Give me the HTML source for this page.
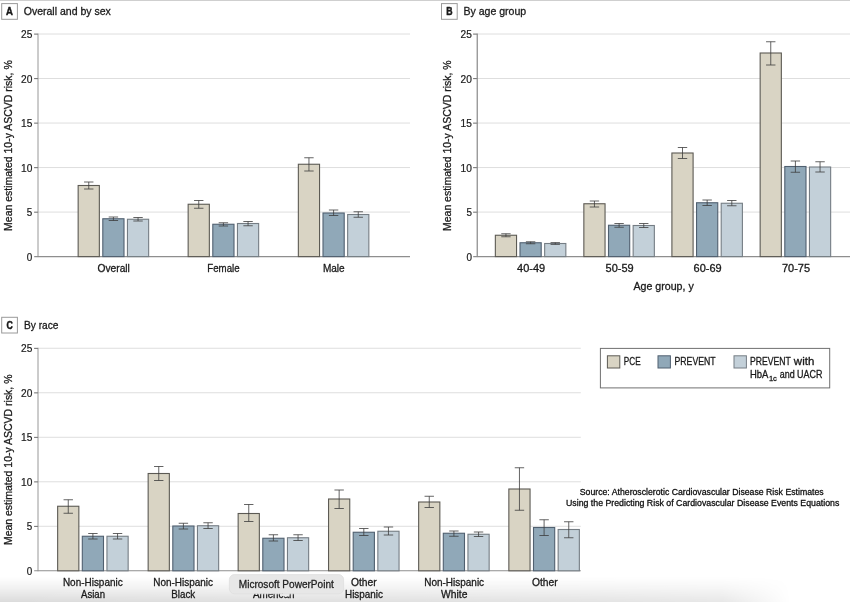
<!DOCTYPE html>
<html lang="en"><head><meta charset="utf-8"><title>Mean estimated 10-y ASCVD risk</title>
<style>html,body{margin:0;padding:0;background:#fff}body{width:850px;height:602px;overflow:hidden}svg{display:block}text{stroke:#1a1a1a;stroke-width:.3px;stroke-linejoin:round}text.n{stroke:none}</style>
</head><body>
<svg width="850" height="602" viewBox="0 0 850 602" font-family='&quot;Liberation Sans&quot;, &quot;DejaVu Sans&quot;, sans-serif' fill="#1a1a1a">
<defs><linearGradient id="sv" x1="0" y1="0" x2="0" y2="1"><stop offset="0" stop-color="#000" stop-opacity="0"/><stop offset="0.45" stop-color="#000" stop-opacity="0.055"/><stop offset="1" stop-color="#000" stop-opacity="0.14"/></linearGradient><linearGradient id="sh" x1="0" y1="0" x2="1" y2="0"><stop offset="0" stop-color="#fff"/><stop offset="0.70" stop-color="#c4c4c4"/><stop offset="0.85" stop-color="#a8a8a8"/><stop offset="0.93" stop-color="#000"/></linearGradient><mask id="sm" maskUnits="userSpaceOnUse" x="0" y="570" width="850" height="40"><rect x="0" y="570" width="850" height="40" fill="url(#sh)"/></mask></defs>
<rect width="850" height="602" fill="#fff"/>
<rect x="0" y="0" width="850" height="0.8" fill="#c4c4c4"/>
<line x1="38" y1="212.08" x2="410" y2="212.08" stroke="#dedede" stroke-width="1"/>
<line x1="38" y1="167.56" x2="410" y2="167.56" stroke="#dedede" stroke-width="1"/>
<line x1="38" y1="123.04" x2="410" y2="123.04" stroke="#dedede" stroke-width="1"/>
<line x1="38" y1="78.52" x2="410" y2="78.52" stroke="#dedede" stroke-width="1"/>
<line x1="38" y1="34.00" x2="410" y2="34.00" stroke="#dedede" stroke-width="1"/>
<line x1="38" y1="33.50" x2="38" y2="257.10" stroke="#989898" stroke-width="1"/>
<line x1="34.2" y1="256.60" x2="410" y2="256.60" stroke="#8e8e8e" stroke-width="1.05"/>
<line x1="34.1" y1="212.18" x2="37.8" y2="212.18" stroke="#3a3a3a" stroke-width="0.75"/>
<line x1="34.1" y1="167.66" x2="37.8" y2="167.66" stroke="#3a3a3a" stroke-width="0.75"/>
<line x1="34.1" y1="123.14" x2="37.8" y2="123.14" stroke="#3a3a3a" stroke-width="0.75"/>
<line x1="34.1" y1="78.62" x2="37.8" y2="78.62" stroke="#3a3a3a" stroke-width="0.75"/>
<line x1="34.1" y1="34.10" x2="37.8" y2="34.10" stroke="#3a3a3a" stroke-width="0.75"/>
<rect x="78.15" y="185.50" width="21.2" height="71.10" fill="#d9d4c4" stroke="#5c5a54" stroke-width="1.1"/>
<path d="M88.75 182.00V189.00M84.05 182.00H93.45M84.05 189.00H93.45" stroke="#3c3c3c" stroke-width="0.8" fill="none"/>
<rect x="102.80" y="218.75" width="21.2" height="37.85" fill="#90a8b8" stroke="#506070" stroke-width="1.1"/>
<path d="M113.40 217.00V220.50M108.70 217.00H118.10M108.70 220.50H118.10" stroke="#3c3c3c" stroke-width="0.8" fill="none"/>
<rect x="127.45" y="219.25" width="21.2" height="37.35" fill="#c3d0d9" stroke="#757d84" stroke-width="1.1"/>
<path d="M138.05 217.50V221.00M133.35 217.50H142.75M133.35 221.00H142.75" stroke="#3c3c3c" stroke-width="0.8" fill="none"/>
<rect x="188.15" y="204.25" width="21.2" height="52.35" fill="#d9d4c4" stroke="#5c5a54" stroke-width="1.1"/>
<path d="M198.75 200.50V208.25M194.05 200.50H203.45M194.05 208.25H203.45" stroke="#3c3c3c" stroke-width="0.8" fill="none"/>
<rect x="212.80" y="224.25" width="21.2" height="32.35" fill="#90a8b8" stroke="#506070" stroke-width="1.1"/>
<path d="M223.40 222.75V226.00M218.70 222.75H228.10M218.70 226.00H228.10" stroke="#3c3c3c" stroke-width="0.8" fill="none"/>
<rect x="237.45" y="223.50" width="21.2" height="33.10" fill="#c3d0d9" stroke="#757d84" stroke-width="1.1"/>
<path d="M248.05 221.50V225.75M243.35 221.50H252.75M243.35 225.75H252.75" stroke="#3c3c3c" stroke-width="0.8" fill="none"/>
<rect x="298.35" y="164.25" width="21.2" height="92.35" fill="#d9d4c4" stroke="#5c5a54" stroke-width="1.1"/>
<path d="M308.95 157.75V171.00M304.25 157.75H313.65M304.25 171.00H313.65" stroke="#3c3c3c" stroke-width="0.8" fill="none"/>
<rect x="323.00" y="213.00" width="21.2" height="43.60" fill="#90a8b8" stroke="#506070" stroke-width="1.1"/>
<path d="M333.60 210.00V215.50M328.90 210.00H338.30M328.90 215.50H338.30" stroke="#3c3c3c" stroke-width="0.8" fill="none"/>
<rect x="347.65" y="214.50" width="21.2" height="42.10" fill="#c3d0d9" stroke="#757d84" stroke-width="1.1"/>
<path d="M358.25 211.75V217.25M353.55 211.75H362.95M353.55 217.25H362.95" stroke="#3c3c3c" stroke-width="0.8" fill="none"/>
<text x="26.8" y="260.80" font-size="10.0" textLength="5.5" lengthAdjust="spacingAndGlyphs" style="stroke-width:.2px">0</text>
<text x="26.8" y="216.28" font-size="10.0" textLength="5.5" lengthAdjust="spacingAndGlyphs" style="stroke-width:.2px">5</text>
<text x="21.0" y="171.76" font-size="10.0" textLength="11.3" lengthAdjust="spacingAndGlyphs" style="stroke-width:.2px">10</text>
<text x="21.0" y="127.24" font-size="10.0" textLength="11.3" lengthAdjust="spacingAndGlyphs" style="stroke-width:.2px">15</text>
<text x="21.0" y="82.72" font-size="10.0" textLength="11.3" lengthAdjust="spacingAndGlyphs" style="stroke-width:.2px">20</text>
<text x="21.0" y="38.20" font-size="10.0" textLength="11.3" lengthAdjust="spacingAndGlyphs" style="stroke-width:.2px">25</text>
<text transform="translate(11.5,230.9) rotate(-90)" font-size="11.1" textLength="170.6" lengthAdjust="spacingAndGlyphs">Mean estimated 10-y ASCVD risk, %</text>
<rect x="1.7" y="3.6" width="15.7" height="15.7" fill="#fff" stroke="#9a9a9a" stroke-width="1"/>
<text x="6.10" y="15.25" font-size="10.7" font-weight="bold" style="stroke-width:.5px" textLength="6.9" lengthAdjust="spacingAndGlyphs">A</text>
<text x="23.7" y="15.3" font-size="11.0" textLength="87.2" lengthAdjust="spacingAndGlyphs">Overall and by sex</text>
<text x="97.5" y="272" font-size="10.6" textLength="32.4" lengthAdjust="spacingAndGlyphs">Overall</text>
<text x="207.3" y="272" font-size="10.6" textLength="32.3" lengthAdjust="spacingAndGlyphs">Female</text>
<text x="322.9" y="272" font-size="10.6" textLength="21.8" lengthAdjust="spacingAndGlyphs">Male</text>
<line x1="477" y1="212.08" x2="850" y2="212.08" stroke="#dedede" stroke-width="1"/>
<line x1="477" y1="167.56" x2="850" y2="167.56" stroke="#dedede" stroke-width="1"/>
<line x1="477" y1="123.04" x2="850" y2="123.04" stroke="#dedede" stroke-width="1"/>
<line x1="477" y1="78.52" x2="850" y2="78.52" stroke="#dedede" stroke-width="1"/>
<line x1="477" y1="34.00" x2="850" y2="34.00" stroke="#dedede" stroke-width="1"/>
<line x1="477.2" y1="33.50" x2="477.2" y2="257.10" stroke="#707070" stroke-width="1"/>
<line x1="473.2" y1="256.60" x2="850" y2="256.60" stroke="#8e8e8e" stroke-width="1.05"/>
<line x1="473.1" y1="212.18" x2="476.8" y2="212.18" stroke="#3a3a3a" stroke-width="0.75"/>
<line x1="473.1" y1="167.66" x2="476.8" y2="167.66" stroke="#3a3a3a" stroke-width="0.75"/>
<line x1="473.1" y1="123.14" x2="476.8" y2="123.14" stroke="#3a3a3a" stroke-width="0.75"/>
<line x1="473.1" y1="78.62" x2="476.8" y2="78.62" stroke="#3a3a3a" stroke-width="0.75"/>
<line x1="473.1" y1="34.10" x2="476.8" y2="34.10" stroke="#3a3a3a" stroke-width="0.75"/>
<rect x="495.35" y="235.25" width="21.2" height="21.35" fill="#d9d4c4" stroke="#5c5a54" stroke-width="1.1"/>
<path d="M505.95 233.75V236.75M501.25 233.75H510.65M501.25 236.75H510.65" stroke="#3c3c3c" stroke-width="0.8" fill="none"/>
<rect x="520.00" y="242.75" width="21.2" height="13.85" fill="#90a8b8" stroke="#506070" stroke-width="1.1"/>
<path d="M530.60 241.75V243.75M525.90 241.75H535.30M525.90 243.75H535.30" stroke="#3c3c3c" stroke-width="0.8" fill="none"/>
<rect x="544.65" y="243.50" width="21.2" height="13.10" fill="#c3d0d9" stroke="#757d84" stroke-width="1.1"/>
<path d="M555.25 242.60V244.40M550.55 242.60H559.95M550.55 244.40H559.95" stroke="#3c3c3c" stroke-width="0.8" fill="none"/>
<rect x="583.85" y="203.75" width="21.2" height="52.85" fill="#d9d4c4" stroke="#5c5a54" stroke-width="1.1"/>
<path d="M594.45 201.00V207.00M589.75 201.00H599.15M589.75 207.00H599.15" stroke="#3c3c3c" stroke-width="0.8" fill="none"/>
<rect x="608.50" y="225.25" width="21.2" height="31.35" fill="#90a8b8" stroke="#506070" stroke-width="1.1"/>
<path d="M619.10 223.50V227.25M614.40 223.50H623.80M614.40 227.25H623.80" stroke="#3c3c3c" stroke-width="0.8" fill="none"/>
<rect x="633.15" y="225.50" width="21.2" height="31.10" fill="#c3d0d9" stroke="#757d84" stroke-width="1.1"/>
<path d="M643.75 223.50V227.50M639.05 223.50H648.45M639.05 227.50H648.45" stroke="#3c3c3c" stroke-width="0.8" fill="none"/>
<rect x="671.90" y="153.00" width="21.2" height="103.60" fill="#d9d4c4" stroke="#5c5a54" stroke-width="1.1"/>
<path d="M682.50 147.50V158.50M677.80 147.50H687.20M677.80 158.50H687.20" stroke="#3c3c3c" stroke-width="0.8" fill="none"/>
<rect x="696.55" y="202.75" width="21.2" height="53.85" fill="#90a8b8" stroke="#506070" stroke-width="1.1"/>
<path d="M707.15 200.00V205.50M702.45 200.00H711.85M702.45 205.50H711.85" stroke="#3c3c3c" stroke-width="0.8" fill="none"/>
<rect x="721.20" y="203.25" width="21.2" height="53.35" fill="#c3d0d9" stroke="#757d84" stroke-width="1.1"/>
<path d="M731.80 200.50V205.75M727.10 200.50H736.50M727.10 205.75H736.50" stroke="#3c3c3c" stroke-width="0.8" fill="none"/>
<rect x="760.15" y="53.00" width="21.2" height="203.60" fill="#d9d4c4" stroke="#5c5a54" stroke-width="1.1"/>
<path d="M770.75 41.75V65.00M766.05 41.75H775.45M766.05 65.00H775.45" stroke="#3c3c3c" stroke-width="0.8" fill="none"/>
<rect x="784.80" y="166.50" width="21.2" height="90.10" fill="#90a8b8" stroke="#506070" stroke-width="1.1"/>
<path d="M795.40 161.00V172.25M790.70 161.00H800.10M790.70 172.25H800.10" stroke="#3c3c3c" stroke-width="0.8" fill="none"/>
<rect x="809.45" y="167.00" width="21.2" height="89.60" fill="#c3d0d9" stroke="#757d84" stroke-width="1.1"/>
<path d="M820.05 161.75V172.00M815.35 161.75H824.75M815.35 172.00H824.75" stroke="#3c3c3c" stroke-width="0.8" fill="none"/>
<text x="466.40000000000003" y="260.80" font-size="10.0" textLength="5.5" lengthAdjust="spacingAndGlyphs" style="stroke-width:.2px">0</text>
<text x="466.40000000000003" y="216.28" font-size="10.0" textLength="5.5" lengthAdjust="spacingAndGlyphs" style="stroke-width:.2px">5</text>
<text x="460.6" y="171.76" font-size="10.0" textLength="11.3" lengthAdjust="spacingAndGlyphs" style="stroke-width:.2px">10</text>
<text x="460.6" y="127.24" font-size="10.0" textLength="11.3" lengthAdjust="spacingAndGlyphs" style="stroke-width:.2px">15</text>
<text x="460.6" y="82.72" font-size="10.0" textLength="11.3" lengthAdjust="spacingAndGlyphs" style="stroke-width:.2px">20</text>
<text x="460.6" y="38.20" font-size="10.0" textLength="11.3" lengthAdjust="spacingAndGlyphs" style="stroke-width:.2px">25</text>
<text transform="translate(451.0,231.0) rotate(-90)" font-size="11.1" textLength="170.6" lengthAdjust="spacingAndGlyphs">Mean estimated 10-y ASCVD risk, %</text>
<rect x="441.5" y="3.6" width="15.7" height="15.7" fill="#fff" stroke="#9a9a9a" stroke-width="1"/>
<text x="446.20" y="15.25" font-size="10.7" font-weight="bold" style="stroke-width:.5px" textLength="6.3" lengthAdjust="spacingAndGlyphs">B</text>
<text x="463.4" y="15.3" font-size="11.0" textLength="62.8" lengthAdjust="spacingAndGlyphs">By age group</text>
<text x="517.1" y="272" font-size="10.6" textLength="28.1" lengthAdjust="spacingAndGlyphs">40-49</text>
<text x="605.6" y="272" font-size="10.6" textLength="28.1" lengthAdjust="spacingAndGlyphs">50-59</text>
<text x="693.6" y="272" font-size="10.6" textLength="28.1" lengthAdjust="spacingAndGlyphs">60-69</text>
<text x="782.0" y="272" font-size="10.6" textLength="28.1" lengthAdjust="spacingAndGlyphs">70-75</text>
<text x="633.5" y="290" font-size="10.6" textLength="60.2" lengthAdjust="spacingAndGlyphs">Age group, y</text>
<line x1="38" y1="526.29" x2="580.8" y2="526.29" stroke="#dedede" stroke-width="1"/>
<line x1="38" y1="481.78" x2="580.8" y2="481.78" stroke="#dedede" stroke-width="1"/>
<line x1="38" y1="437.27" x2="580.8" y2="437.27" stroke="#dedede" stroke-width="1"/>
<line x1="38" y1="392.76" x2="580.8" y2="392.76" stroke="#dedede" stroke-width="1"/>
<line x1="38" y1="348.25" x2="580.8" y2="348.25" stroke="#dedede" stroke-width="1"/>
<line x1="38" y1="347.75" x2="38" y2="571.30" stroke="#989898" stroke-width="1"/>
<line x1="34.2" y1="570.80" x2="580.8" y2="570.80" stroke="#8e8e8e" stroke-width="1.05"/>
<line x1="34.1" y1="526.39" x2="37.8" y2="526.39" stroke="#3a3a3a" stroke-width="0.75"/>
<line x1="34.1" y1="481.88" x2="37.8" y2="481.88" stroke="#3a3a3a" stroke-width="0.75"/>
<line x1="34.1" y1="437.37" x2="37.8" y2="437.37" stroke="#3a3a3a" stroke-width="0.75"/>
<line x1="34.1" y1="392.86" x2="37.8" y2="392.86" stroke="#3a3a3a" stroke-width="0.75"/>
<line x1="34.1" y1="348.35" x2="37.8" y2="348.35" stroke="#3a3a3a" stroke-width="0.75"/>
<rect x="57.65" y="506.25" width="21.2" height="64.55" fill="#d9d4c4" stroke="#5c5a54" stroke-width="1.1"/>
<path d="M68.25 499.75V513.25M63.55 499.75H72.95M63.55 513.25H72.95" stroke="#3c3c3c" stroke-width="0.8" fill="none"/>
<rect x="82.30" y="536.25" width="21.2" height="34.55" fill="#90a8b8" stroke="#506070" stroke-width="1.1"/>
<path d="M92.90 533.50V539.00M88.20 533.50H97.60M88.20 539.00H97.60" stroke="#3c3c3c" stroke-width="0.8" fill="none"/>
<rect x="106.95" y="536.25" width="21.2" height="34.55" fill="#c3d0d9" stroke="#757d84" stroke-width="1.1"/>
<path d="M117.55 533.50V539.00M112.85 533.50H122.25M112.85 539.00H122.25" stroke="#3c3c3c" stroke-width="0.8" fill="none"/>
<rect x="148.15" y="473.50" width="21.2" height="97.30" fill="#d9d4c4" stroke="#5c5a54" stroke-width="1.1"/>
<path d="M158.75 466.50V480.50M154.05 466.50H163.45M154.05 480.50H163.45" stroke="#3c3c3c" stroke-width="0.8" fill="none"/>
<rect x="172.80" y="526.00" width="21.2" height="44.80" fill="#90a8b8" stroke="#506070" stroke-width="1.1"/>
<path d="M183.40 523.25V529.00M178.70 523.25H188.10M178.70 529.00H188.10" stroke="#3c3c3c" stroke-width="0.8" fill="none"/>
<rect x="197.45" y="525.75" width="21.2" height="45.05" fill="#c3d0d9" stroke="#757d84" stroke-width="1.1"/>
<path d="M208.05 522.75V528.50M203.35 522.75H212.75M203.35 528.50H212.75" stroke="#3c3c3c" stroke-width="0.8" fill="none"/>
<rect x="238.15" y="513.50" width="21.2" height="57.30" fill="#d9d4c4" stroke="#5c5a54" stroke-width="1.1"/>
<path d="M248.75 504.50V521.50M244.05 504.50H253.45M244.05 521.50H253.45" stroke="#3c3c3c" stroke-width="0.8" fill="none"/>
<rect x="262.80" y="538.25" width="21.2" height="32.55" fill="#90a8b8" stroke="#506070" stroke-width="1.1"/>
<path d="M273.40 534.75V541.00M268.70 534.75H278.10M268.70 541.00H278.10" stroke="#3c3c3c" stroke-width="0.8" fill="none"/>
<rect x="287.45" y="537.75" width="21.2" height="33.05" fill="#c3d0d9" stroke="#757d84" stroke-width="1.1"/>
<path d="M298.05 534.75V540.50M293.35 534.75H302.75M293.35 540.50H302.75" stroke="#3c3c3c" stroke-width="0.8" fill="none"/>
<rect x="328.55" y="499.00" width="21.2" height="71.80" fill="#d9d4c4" stroke="#5c5a54" stroke-width="1.1"/>
<path d="M339.15 490.00V508.50M334.45 490.00H343.85M334.45 508.50H343.85" stroke="#3c3c3c" stroke-width="0.8" fill="none"/>
<rect x="353.20" y="532.25" width="21.2" height="38.55" fill="#90a8b8" stroke="#506070" stroke-width="1.1"/>
<path d="M363.80 528.50V535.50M359.10 528.50H368.50M359.10 535.50H368.50" stroke="#3c3c3c" stroke-width="0.8" fill="none"/>
<rect x="377.85" y="531.25" width="21.2" height="39.55" fill="#c3d0d9" stroke="#757d84" stroke-width="1.1"/>
<path d="M388.45 527.00V535.00M383.75 527.00H393.15M383.75 535.00H393.15" stroke="#3c3c3c" stroke-width="0.8" fill="none"/>
<rect x="418.65" y="502.00" width="21.2" height="68.80" fill="#d9d4c4" stroke="#5c5a54" stroke-width="1.1"/>
<path d="M429.25 496.25V507.50M424.55 496.25H433.95M424.55 507.50H433.95" stroke="#3c3c3c" stroke-width="0.8" fill="none"/>
<rect x="443.30" y="533.25" width="21.2" height="37.55" fill="#90a8b8" stroke="#506070" stroke-width="1.1"/>
<path d="M453.90 531.00V536.25M449.20 531.00H458.60M449.20 536.25H458.60" stroke="#3c3c3c" stroke-width="0.8" fill="none"/>
<rect x="467.95" y="534.25" width="21.2" height="36.55" fill="#c3d0d9" stroke="#757d84" stroke-width="1.1"/>
<path d="M478.55 532.00V536.50M473.85 532.00H483.25M473.85 536.50H483.25" stroke="#3c3c3c" stroke-width="0.8" fill="none"/>
<rect x="508.85" y="489.00" width="21.2" height="81.80" fill="#d9d4c4" stroke="#5c5a54" stroke-width="1.1"/>
<path d="M519.45 467.75V510.25M514.75 467.75H524.15M514.75 510.25H524.15" stroke="#3c3c3c" stroke-width="0.8" fill="none"/>
<rect x="533.50" y="527.50" width="21.2" height="43.30" fill="#90a8b8" stroke="#506070" stroke-width="1.1"/>
<path d="M544.10 519.75V535.50M539.40 519.75H548.80M539.40 535.50H548.80" stroke="#3c3c3c" stroke-width="0.8" fill="none"/>
<rect x="558.15" y="529.50" width="21.2" height="41.30" fill="#c3d0d9" stroke="#757d84" stroke-width="1.1"/>
<path d="M568.75 521.75V537.75M564.05 521.75H573.45M564.05 537.75H573.45" stroke="#3c3c3c" stroke-width="0.8" fill="none"/>
<text x="26.8" y="575.00" font-size="10.0" textLength="5.5" lengthAdjust="spacingAndGlyphs" style="stroke-width:.2px">0</text>
<text x="26.8" y="530.49" font-size="10.0" textLength="5.5" lengthAdjust="spacingAndGlyphs" style="stroke-width:.2px">5</text>
<text x="21.0" y="485.98" font-size="10.0" textLength="11.3" lengthAdjust="spacingAndGlyphs" style="stroke-width:.2px">10</text>
<text x="21.0" y="441.47" font-size="10.0" textLength="11.3" lengthAdjust="spacingAndGlyphs" style="stroke-width:.2px">15</text>
<text x="21.0" y="396.96" font-size="10.0" textLength="11.3" lengthAdjust="spacingAndGlyphs" style="stroke-width:.2px">20</text>
<text x="21.0" y="352.45" font-size="10.0" textLength="11.3" lengthAdjust="spacingAndGlyphs" style="stroke-width:.2px">25</text>
<text transform="translate(11.5,545.1) rotate(-90)" font-size="11.1" textLength="170.6" lengthAdjust="spacingAndGlyphs">Mean estimated 10-y ASCVD risk, %</text>
<rect x="1.7" y="317.3" width="15.7" height="15.7" fill="#fff" stroke="#9a9a9a" stroke-width="1"/>
<text x="6.40" y="328.95000000000005" font-size="10.7" font-weight="bold" style="stroke-width:.5px" textLength="6.3" lengthAdjust="spacingAndGlyphs">C</text>
<text x="24.0" y="328.9" font-size="11.0" textLength="34.5" lengthAdjust="spacingAndGlyphs">By race</text>
<rect x="0" y="577" width="850" height="25" fill="url(#sv)" mask="url(#sm)"/>
<text x="62.9" y="585.9" font-size="10.6" textLength="59.8" lengthAdjust="spacingAndGlyphs">Non-Hispanic</text>
<text x="81.0" y="598.4" font-size="10.6" textLength="24.0" lengthAdjust="spacingAndGlyphs">Asian</text>
<text x="153.2" y="585.9" font-size="10.6" textLength="59.8" lengthAdjust="spacingAndGlyphs">Non-Hispanic</text>
<text x="171.3" y="598.4" font-size="10.6" textLength="23.9" lengthAdjust="spacingAndGlyphs">Black</text>
<text x="256.5" y="585.9" font-size="10.6" textLength="34.4" lengthAdjust="spacingAndGlyphs">Mexican</text>
<text x="252.9" y="598.4" font-size="10.6" textLength="41.5" lengthAdjust="spacingAndGlyphs">American</text>
<text x="351.0" y="585.9" font-size="10.6" textLength="25.7" lengthAdjust="spacingAndGlyphs">Other</text>
<text x="345.0" y="598.4" font-size="10.6" textLength="37.9" lengthAdjust="spacingAndGlyphs">Hispanic</text>
<text x="424.2" y="585.9" font-size="10.6" textLength="59.9" lengthAdjust="spacingAndGlyphs">Non-Hispanic</text>
<text x="441.1" y="598.4" font-size="10.6" textLength="26.4" lengthAdjust="spacingAndGlyphs">White</text>
<text x="531.9" y="585.9" font-size="10.6" textLength="25.7" lengthAdjust="spacingAndGlyphs">Other</text>
<rect x="282.9" y="590" width="6.6" height="6.5" rx="1.5" fill="#ededed"/>
<rect x="229.4" y="574.6" width="114.2" height="19.2" rx="5" fill="#e7e7e7" stroke="#dedede" stroke-width="0.8"/>
<text x="238.8" y="587.5" font-size="10" textLength="95.0" lengthAdjust="spacingAndGlyphs" style="stroke-width:.28px;stroke:#222" fill="#1e1e1e">Microsoft PowerPoint</text>
<rect x="600.4" y="348.4" width="229.3" height="39.5" fill="#fff" stroke="#707070" stroke-width="1"/>
<rect x="607.4" y="355.8" width="12.4" height="12.2" fill="#d9d4c4" stroke="#5c5a54" stroke-width="1"/>
<rect x="658.0" y="355.8" width="12.4" height="12.2" fill="#90a8b8" stroke="#506070" stroke-width="1"/>
<rect x="734.0" y="355.8" width="12.4" height="12.2" fill="#c3d0d9" stroke="#757d84" stroke-width="1"/>
<text x="623.8" y="365.15" font-size="10.2" textLength="16.8" lengthAdjust="spacingAndGlyphs">PCE</text>
<text x="674.5" y="365.15" font-size="10.2" textLength="41.1" lengthAdjust="spacingAndGlyphs">PREVENT</text>
<text x="750.0" y="365.15" font-size="10.2"><tspan textLength="40.7" lengthAdjust="spacingAndGlyphs">PREVENT</tspan><tspan textLength="23.6" lengthAdjust="spacingAndGlyphs"> with</tspan></text>
<text x="750.0" y="377.8" font-size="10.2"><tspan textLength="18.4" lengthAdjust="spacingAndGlyphs">HbA</tspan><tspan dy="3.5" dx="0.5" font-size="7.8" textLength="8.0" lengthAdjust="spacingAndGlyphs">1c</tspan><tspan dy="-3.5" dx="0.3" textLength="45.3" lengthAdjust="spacingAndGlyphs"> and UACR</tspan></text>
<text x="579.8" y="494.7" font-size="9.3" textLength="243.8" lengthAdjust="spacingAndGlyphs" fill="#000">Source: Atherosclerotic Cardiovascular Disease Risk Estimates</text>
<text x="566.0" y="506.3" font-size="9.3" textLength="273.3" lengthAdjust="spacingAndGlyphs" fill="#000">Using the Predicting Risk of Cardiovascular Disease Events Equations</text>
</svg>
</body></html>
